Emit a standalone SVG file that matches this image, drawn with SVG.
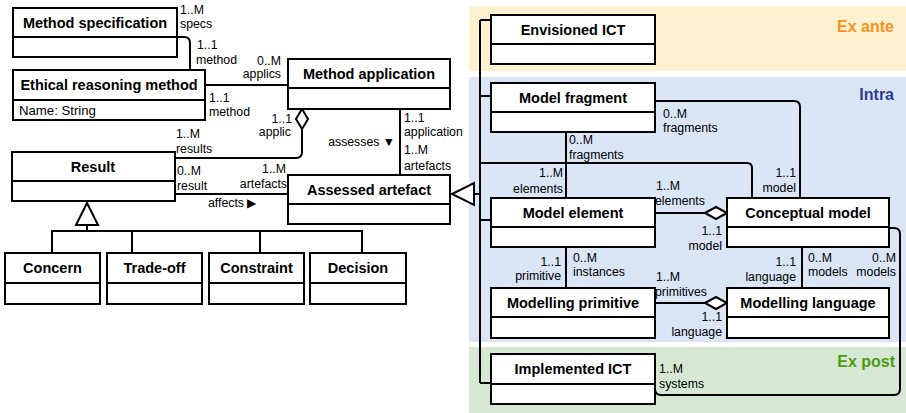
<svg xmlns="http://www.w3.org/2000/svg" width="906" height="413" viewBox="0 0 906 413">
<style>
.box{fill:#fff;stroke:#000;stroke-width:2}
.t{font-family:"Liberation Sans",Arial,sans-serif;font-weight:bold;font-size:14.5px;text-anchor:middle;fill:#000}
.a{font-family:"Liberation Sans",Arial,sans-serif;font-weight:normal;font-size:12.3px;text-anchor:start;fill:#000}
.a.e{text-anchor:end}
.n{font-family:"Liberation Sans",Arial,sans-serif;font-size:13.2px;fill:#000}
.c{fill:none;stroke:#000;stroke-width:2}
.d{fill:#fff;stroke:#000;stroke-width:2}
.band{font-family:"Liberation Sans",Arial,sans-serif;font-weight:bold;font-size:16px;text-anchor:end}
</style>
<rect x="0" y="0" width="906" height="413" fill="#fff"/>
<g id="bands">
<rect x="469" y="6" width="437" height="65" fill="#FDF1CF"/>
<rect x="469" y="77" width="437" height="265" fill="#DAE5F6"/>
<rect x="469" y="347" width="437" height="66" fill="#D6E8D4"/>
<text class="band" x="894" y="32" fill="#F7931E">Ex ante</text>
<text class="band" x="894" y="100" fill="#2D3C96">Intra</text>
<text class="band" x="895" y="367" fill="#4C9A12">Ex post</text>
</g>
<g id="connectors">
<path class="c" d="M177,37 H184 Q190,37 190,43 V70"/>
<path class="c" d="M205,85 H288"/>
<path class="c" d="M302,129 V152 Q302,158 296,158 H175"/>
<path class="d" d="M302,109 L308,119 L302,129 L296,119 Z"/>
<path class="c" d="M175,194 H288"/>
<path class="c" d="M400,109 V175"/>
<path class="c" d="M87,225 V231 M52,253 V231 H362 V253 M132,231 V253 M260,231 V253"/>
<path class="d" d="M87,203 L98,225 L76,225 Z"/>
<path class="c" d="M474,194 H480 M480,20 V383 M480,20 H491 M480,96 H491 M480,220 H491 M480,383 H491"/>
<path class="d" d="M452,194 L474,183 L474,205 Z"/>
<path class="c" d="M480,163 H747 Q752,163 752,168 V198"/>
<path class="c" d="M655,101 H794 Q800,101 800,107 V198"/>
<path class="c" d="M566,132 V198"/>
<path class="c" d="M655,213 H705"/>
<path class="d" d="M705,213 L716,207 L727,213 L716,219 Z"/>
<path class="c" d="M566,247 V288"/>
<path class="c" d="M802,247 V288"/>
<path class="c" d="M889,228 H894 Q900,228 900,234 V389 Q900,395 894,395 H661 Q655,395 655,389"/>
<path class="c" d="M655,303 H705"/>
<path class="d" d="M705,303 L716,297 L727,303 L716,309 Z"/>
</g>
<g id="labels">
<text class="a" x="180" y="14">1..M</text>
<text class="a" x="180" y="28">specs</text>
<text class="a" x="197" y="49">1..1</text>
<text class="a" x="196" y="64">method</text>
<text class="a e" x="281" y="65">0..M</text>
<text class="a e" x="281" y="78">applics</text>
<text class="a" x="209" y="102">1..1</text>
<text class="a" x="209" y="116">method</text>
<text class="a" x="176" y="138">1..M</text>
<text class="a" x="176" y="153">results</text>
<text class="a e" x="292" y="123">1..1</text>
<text class="a e" x="291" y="136">applic</text>
<text class="a" x="177" y="175">0..M</text>
<text class="a" x="177" y="190">result</text>
<text class="a e" x="286" y="173">1..M</text>
<text class="a e" x="287" y="188">artefacts</text>
<text class="a" x="208" y="207">affects ▶</text>
<text class="a e" x="395" y="146">assesses ▼</text>
<text class="a" x="404" y="122">1..1</text>
<text class="a" x="404" y="136">application</text>
<text class="a" x="404" y="154">1..M</text>
<text class="a" x="404" y="170">artefacts</text>
<text class="a" x="663" y="118">0..M</text>
<text class="a" x="663" y="132">fragments</text>
<text class="a" x="569" y="144">0..M</text>
<text class="a" x="569" y="159">fragments</text>
<text class="a e" x="563" y="177">1..M</text>
<text class="a e" x="563" y="193">elements</text>
<text class="a" x="656" y="190">1..M</text>
<text class="a" x="655" y="205">elements</text>
<text class="a e" x="796" y="177">1..1</text>
<text class="a e" x="796" y="192">model</text>
<text class="a e" x="722" y="235">1..1</text>
<text class="a e" x="722" y="250">model</text>
<text class="a e" x="561" y="266">1..1</text>
<text class="a e" x="561" y="280">primitive</text>
<text class="a" x="573" y="262">0..M</text>
<text class="a" x="573" y="276">instances</text>
<text class="a" x="656" y="281">1..M</text>
<text class="a" x="655" y="296">primitives</text>
<text class="a e" x="722" y="321">1..1</text>
<text class="a e" x="722" y="336">language</text>
<text class="a e" x="796" y="266">1..1</text>
<text class="a e" x="796" y="281">language</text>
<text class="a" x="808" y="262">0..M</text>
<text class="a" x="808" y="276">models</text>
<text class="a e" x="896" y="262">0..M</text>
<text class="a e" x="896" y="276">models</text>
<text class="a" x="659" y="373">1..M</text>
<text class="a" x="659" y="388">systems</text>
</g>
<g id="method-specification">
<rect class="box" x="13" y="8" width="164" height="29"/>
<rect class="box" x="13" y="37" width="164" height="20"/>
<text class="t" x="95" y="28">Method specification</text>
</g>
<g id="ethical-reasoning-method">
<rect class="box" x="13" y="70" width="192" height="30"/>
<rect class="box" x="13" y="100" width="192" height="20"/>
<text class="t" x="109" y="90">Ethical reasoning method</text>
<text class="n" x="19" y="115">Name: String</text>
</g>
<g id="method-application">
<rect class="box" x="288" y="59" width="162" height="29"/>
<rect class="box" x="288" y="88" width="162" height="21"/>
<text class="t" x="369" y="79">Method application</text>
</g>
<g id="result">
<rect class="box" x="12" y="152" width="163" height="29"/>
<rect class="box" x="12" y="181" width="163" height="20"/>
<text class="t" x="93" y="172">Result</text>
</g>
<g id="assessed-artefact">
<rect class="box" x="288" y="175" width="162" height="29"/>
<rect class="box" x="288" y="204" width="162" height="20"/>
<text class="t" x="369" y="195">Assessed artefact</text>
</g>
<g id="concern">
<rect class="box" x="5" y="253" width="95" height="30"/>
<rect class="box" x="5" y="283" width="95" height="21"/>
<text class="t" x="52.5" y="273">Concern</text>
</g>
<g id="trade-off">
<rect class="box" x="107" y="253" width="95" height="30"/>
<rect class="box" x="107" y="283" width="95" height="21"/>
<text class="t" x="154.5" y="273">Trade-off</text>
</g>
<g id="constraint">
<rect class="box" x="209" y="253" width="95" height="30"/>
<rect class="box" x="209" y="283" width="95" height="21"/>
<text class="t" x="256.5" y="273">Constraint</text>
</g>
<g id="decision">
<rect class="box" x="310" y="253" width="96" height="30"/>
<rect class="box" x="310" y="283" width="96" height="21"/>
<text class="t" x="358" y="273">Decision</text>
</g>
<g id="envisioned-ict">
<rect class="box" x="491" y="15" width="164" height="29"/>
<rect class="box" x="491" y="44" width="164" height="20"/>
<text class="t" x="573" y="35">Envisioned ICT</text>
</g>
<g id="model-fragment">
<rect class="box" x="491" y="83" width="164" height="29"/>
<rect class="box" x="491" y="112" width="164" height="20"/>
<text class="t" x="573" y="103">Model fragment</text>
</g>
<g id="model-element">
<rect class="box" x="491" y="198" width="164" height="29"/>
<rect class="box" x="491" y="227" width="164" height="20"/>
<text class="t" x="573" y="218">Model element</text>
</g>
<g id="conceptual-model">
<rect class="box" x="727" y="198" width="162" height="29"/>
<rect class="box" x="727" y="227" width="162" height="20"/>
<text class="t" x="808" y="218">Conceptual model</text>
</g>
<g id="modelling-primitive">
<rect class="box" x="491" y="288" width="164" height="29"/>
<rect class="box" x="491" y="317" width="164" height="21"/>
<text class="t" x="573" y="308">Modelling primitive</text>
</g>
<g id="modelling-language">
<rect class="box" x="727" y="288" width="162" height="29"/>
<rect class="box" x="727" y="317" width="162" height="21"/>
<text class="t" x="808" y="308">Modelling language</text>
</g>
<g id="implemented-ict">
<rect class="box" x="491" y="354" width="164" height="30"/>
<rect class="box" x="491" y="384" width="164" height="20"/>
<text class="t" x="573" y="374">Implemented ICT</text>
</g>
</svg>
